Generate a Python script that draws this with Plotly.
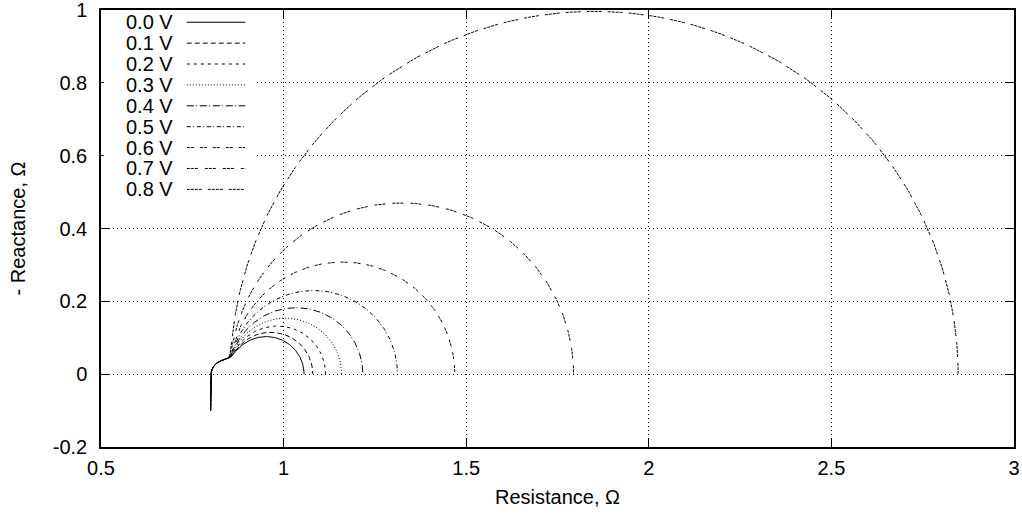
import numpy as np
import plotly.graph_objects as go

# ---- data ----
voltages = ["0.0 V", "0.1 V", "0.2 V", "0.3 V", "0.4 V", "0.5 V", "0.6 V", "0.7 V", "0.8 V"]
# low-frequency intercept (total resistance, ohm) of each spectrum
r_end = [1.056, 1.080, 1.115, 1.159, 1.217, 1.312, 1.469, 1.794, 2.847]
# common high-frequency part of the spectra (equivalent circuit parameters)
r_ohmic = 0.800      # high-frequency intercept
r_hf_arc = 0.055     # small high-frequency arc
tau_hf = 1e-3        # time constant of high-frequency arc (s)
c_lf = 0.1           # capacitance of the main arc (F)
l_ind = 1e-6         # lead inductance (H)

x_ticks = [0.5, 1, 1.5, 2, 2.5, 3]
x_ticktext = ["0.5", "1", "1.5", "2", "2.5", "3"]
y_ticks = [-0.2, 0, 0.2, 0.4, 0.6, 0.8, 1]
y_ticktext = ["-0.2", "0", "0.2", "0.4", "0.6", "0.8", "1"]

# line styles (gnuplot-like dash patterns)
dashes = ["solid", "5px,3px", "3px,4px", "1px,2px", "7px,2px,1px,3px",
          "4px,2px,1px,3px", "3px,1px,3px,6px",
          "3px,1px,3px,1px,3px,7px", "3px,1px,3px,1px,3px,1px,3px,6px"]

omega = np.logspace(5, -2.5, 600)

fig = go.Figure()
for name, rend, dash in zip(voltages, r_end, dashes):
    r_ct = rend - r_ohmic - r_hf_arc
    z = (r_ohmic + 1j * omega * l_ind
         + r_hf_arc / (1 + 1j * omega * tau_hf)
         + r_ct / (1 + 1j * omega * r_ct * c_lf))
    fig.add_trace(go.Scatter(x=z.real, y=-z.imag, mode="lines", name=name,
                             line=dict(color="black", width=1, dash=dash),
                             showlegend=False))

font = "Liberation Sans, Arial, Helvetica, sans-serif"
fs = 20

# manual gnuplot-style key: text on the left, sample on the right
shapes = [dict(type="rect", xref="paper", yref="paper", x0=0.003, x1=0.168,
               y0=0.55, y1=0.995, fillcolor="white", line=dict(width=0),
               layer="above")]
annotations = []
row0 = 0.972
step = 0.0478
for i, (name, dash) in enumerate(zip(voltages, dashes)):
    yy = row0 - i * step
    annotations.append(dict(xref="paper", yref="paper", x=0.081, y=yy,
                            text=name, showarrow=False, xanchor="right",
                            yanchor="middle", font=dict(size=fs, color="black", family=font)))
    shapes.append(dict(type="line", xref="paper", yref="paper", x0=0.094, x1=0.158,
                       y0=yy, y1=yy, line=dict(color="black", width=1, dash=dash),
                       layer="above"))

axis_common = dict(showline=True, linecolor="black", linewidth=1.5, mirror="ticks",
                   ticks="inside", ticklen=9, tickcolor="black", tickwidth=1,
                   showgrid=True, gridcolor="black", griddash="1px,3px", gridwidth=1,
                   zeroline=False, ticklabeloverflow="allow", automargin=False,
                   tickfont=dict(size=fs, color="black", family=font))

fig.update_layout(
    width=1022, height=515,
    margin=dict(l=101, r=8, t=10, b=68),
    plot_bgcolor="white", paper_bgcolor="white",
    font=dict(family=font, size=fs, color="black"),
    xaxis=dict(range=[0.5, 3.00001], tickmode="array", tickvals=x_ticks, ticktext=x_ticktext,
               ticklabelstandoff=2,
               title=dict(text="Resistance, Ω", standoff=12, font=dict(size=fs)),
               **axis_common),
    yaxis=dict(range=[-0.20001, 1.00001], tickmode="array", tickvals=y_ticks, ticktext=y_ticktext,
               ticklabelstandoff=8,
               title=dict(text="- Reactance, Ω", standoff=22, font=dict(size=fs)),
               **axis_common),
    shapes=shapes, annotations=annotations,
)

fig.write_html("out.html")
